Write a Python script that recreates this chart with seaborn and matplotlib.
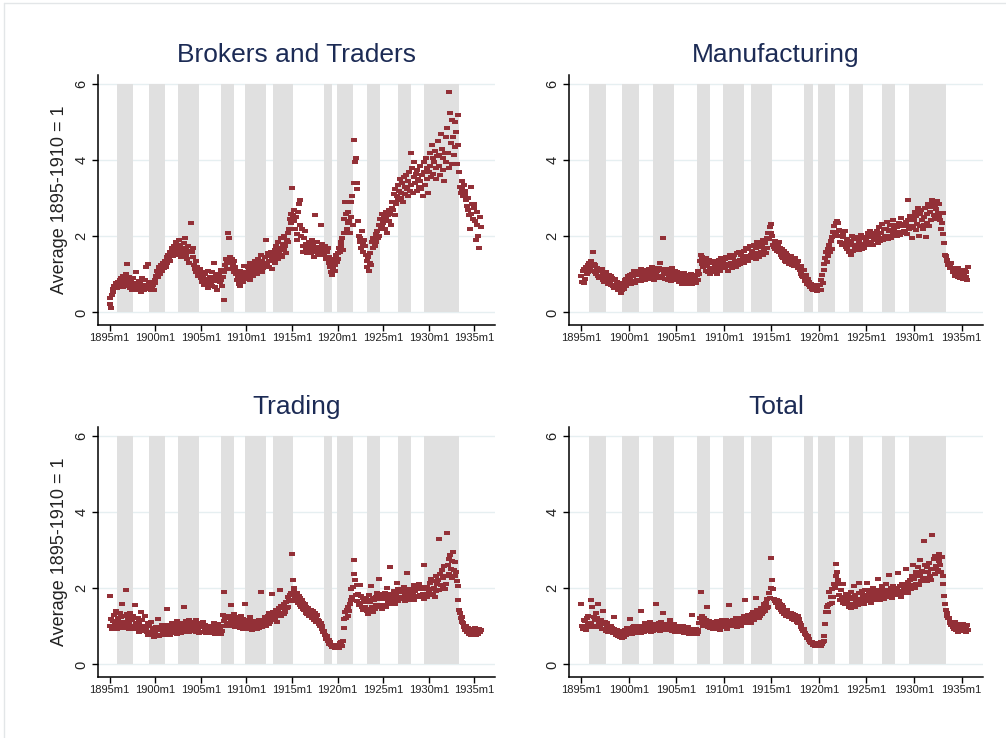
import numpy as np
import pandas as pd
import matplotlib
matplotlib.use("Agg")
import matplotlib.pyplot as plt
from matplotlib.lines import Line2D
import seaborn as sns

# ------------------------------
# Data: monthly index values (average 1895-1910 = 1), 1895m1 onward
# ------------------------------
brokers = [
    0.38, 0.22, 0.12, 0.45, 0.62, 0.55, 0.70, 0.66, 0.78, 0.72, 0.64, 0.80,
    0.75, 0.85, 0.70, 0.90, 0.82, 0.68, 0.95, 0.78, 0.88, 0.72, 1.02, 1.28,
    0.80, 0.70, 0.92, 0.65, 0.85, 0.60, 0.75, 0.90, 0.62, 0.78, 1.05, 0.70,
    0.68, 0.58, 0.82, 0.62, 0.75, 0.55, 0.90, 0.66, 0.72, 0.60, 0.85, 0.64,
    1.20, 0.70, 1.28, 0.62, 0.75, 0.68, 0.58, 0.80, 0.65, 0.72, 0.60, 0.78,
    0.85, 0.95, 1.10, 0.92, 1.05, 1.20, 1.00, 1.15, 1.25, 1.08, 1.30, 1.18,
    1.25, 1.35, 1.20, 1.45, 1.30, 1.52, 1.40, 1.60, 1.35, 1.55, 1.70, 1.48,
    1.62, 1.75, 1.50, 1.85, 1.68, 1.55, 1.78, 1.90, 1.60, 1.72, 1.45, 1.65,
    1.70, 1.55, 1.82, 1.95, 1.48, 1.65, 1.40, 1.75, 1.58, 1.30, 1.62, 2.35,
    1.60, 1.45, 1.70, 1.25, 1.15, 1.35, 1.05, 1.20, 0.95, 1.10, 0.98, 1.15,
    0.90, 1.05, 0.80, 0.95, 0.72, 0.88, 1.00, 0.75, 0.85, 0.65, 1.10, 0.82,
    0.92, 0.78, 1.05, 0.70, 0.88, 1.30, 0.82, 0.68, 0.95, 0.60, 0.85, 1.00,
    0.95, 0.80, 1.12, 0.85, 0.70, 0.92, 0.33, 1.05, 1.25, 1.40, 1.15, 1.35,
    2.10, 1.95, 1.45, 1.30, 1.15, 1.40, 1.25, 1.05, 1.35, 1.20, 1.00, 1.10,
    0.85, 0.95, 0.75, 1.10, 0.70, 0.90, 1.05, 0.80, 0.98, 1.22, 0.88, 1.00,
    1.05, 0.92, 1.20, 1.10, 0.85, 1.30, 1.00, 1.15, 0.95, 1.25, 1.08, 1.35,
    1.15, 1.30, 1.00, 1.40, 1.20, 1.10, 1.25, 1.50, 1.05, 1.35, 1.18, 1.28,
    1.30, 1.45, 1.90, 1.25, 1.55, 1.35, 1.20, 1.48, 1.60, 1.38, 1.15, 1.52,
    1.45, 1.65, 1.30, 1.75, 1.55, 1.40, 1.85, 1.60, 1.50, 1.95, 1.70, 1.45,
    1.80, 1.65, 2.00, 1.75, 1.55, 1.90, 2.10, 1.85, 2.20, 2.45, 2.60, 2.35,
    3.28, 2.55, 2.70, 2.40, 2.20, 2.50, 2.05, 1.90, 2.65, 2.85, 2.95, 2.30,
    2.00, 2.20, 1.75, 1.60, 1.95, 2.15, 1.65, 1.80, 1.55, 1.70, 1.85, 1.60,
    1.75, 1.55, 1.90, 1.65, 1.80, 1.45, 2.55, 1.70, 1.60, 1.85, 1.50, 1.68,
    1.72, 1.60, 2.30, 1.55, 1.80, 1.65, 1.50, 1.75, 1.62, 1.40, 1.58, 1.70,
    1.30, 1.45, 1.20, 1.05, 0.98, 1.35, 1.15, 1.40, 1.25, 1.10, 1.50, 1.32,
    1.55, 1.40, 1.70, 1.60, 1.85, 1.75, 1.95, 1.65, 2.10, 2.45, 2.90, 2.60,
    2.20, 2.65, 2.35, 2.40, 2.10, 2.90, 2.50, 3.05, 2.30, 3.40, 4.52, 3.95,
    4.05, 3.25, 3.40, 2.40, 2.00, 1.85, 1.95, 1.70, 2.15, 1.80, 1.60, 1.90,
    1.75, 1.50, 1.35, 1.20, 1.45, 1.10, 1.30, 1.55, 1.25, 1.85, 1.70, 1.95,
    1.90, 1.75, 2.05, 1.85, 2.15, 1.95, 2.30, 2.00, 2.45, 2.20, 2.60, 2.25,
    2.35, 2.50, 2.20, 2.65, 2.45, 2.10, 2.55, 2.70, 2.40, 2.60, 2.30, 2.75,
    2.90, 2.70, 3.10, 2.55, 3.25, 2.85, 3.05, 3.35, 2.95, 3.20, 3.50, 3.00,
    3.15, 3.40, 2.90, 3.55, 3.30, 3.10, 3.60, 3.25, 3.05, 3.45, 3.70, 3.20,
    4.20, 3.35, 3.80, 3.15, 3.55, 3.95, 3.40, 3.65, 3.20, 3.75, 3.50, 3.30,
    3.45, 3.85, 3.25, 3.60, 3.05, 3.70, 3.95, 3.35, 4.05, 3.50, 3.80, 3.15,
    3.70, 4.20, 3.85, 3.55, 4.40, 4.05, 3.65, 3.95, 4.25, 3.50, 3.80, 4.10,
    4.50, 3.85, 4.15, 3.60, 4.70, 4.30, 3.75, 4.05, 3.45, 4.20, 3.95, 4.60,
    4.85, 4.20, 3.80, 5.80, 5.25, 4.45, 3.90, 5.05, 4.60, 4.15, 5.00, 4.35,
    4.75, 3.90, 5.20, 4.40, 3.70, 3.30, 3.15, 3.45, 3.25, 3.05, 3.35, 3.20,
    3.10, 2.95, 2.80, 3.00, 2.70, 2.55, 2.20, 3.30, 2.60, 2.85, 2.45, 2.75,
    2.85, 2.40, 1.90, 2.65, 2.30, 2.00, 1.70, 2.50, 2.25,
]

manufacturing = [
    0.95, 0.80, 1.10, 0.78, 1.15, 0.88, 1.20, 1.00, 1.25, 1.05, 1.30, 1.12,
    1.22, 1.35, 1.10, 1.60, 1.28, 1.05, 1.25, 1.00, 1.18, 0.95, 1.12, 0.90,
    1.08, 0.92, 1.15, 0.85, 1.02, 0.80, 0.98, 1.05, 0.84, 0.95, 0.76, 0.98,
    0.82, 0.95, 0.72, 0.90, 0.70, 0.86, 0.64, 0.88, 0.68, 0.80, 0.60, 0.78,
    0.58, 0.72, 0.52, 0.70, 0.58, 0.78, 0.62, 0.84, 0.70, 0.88, 0.75, 0.95,
    0.80, 0.98, 0.85, 0.74, 1.02, 0.82, 0.95, 1.08, 0.78, 0.98, 0.85, 1.04,
    0.86, 1.02, 1.08, 0.82, 1.14, 0.92, 1.04, 0.88, 1.12, 0.84, 1.06, 0.92,
    1.04, 0.88, 1.14, 1.02, 0.90, 1.20, 0.96, 1.10, 0.86, 1.16, 0.98, 0.90,
    1.08, 0.94, 1.18, 1.30, 0.96, 1.12, 0.90, 1.95, 1.02, 1.15, 0.88, 1.10,
    1.02, 0.86, 1.14, 0.92, 1.08, 0.82, 1.16, 0.95, 1.04, 0.84, 1.08, 0.90,
    0.96, 1.06, 0.84, 1.00, 0.80, 1.04, 0.90, 0.76, 0.98, 0.85, 1.04, 0.88,
    0.82, 0.98, 0.88, 0.74, 0.95, 0.82, 1.02, 0.86, 0.76, 0.98, 0.88, 0.80,
    0.94, 0.78, 0.98, 0.86, 1.08, 1.00, 1.35, 1.52, 1.28, 1.46, 1.20, 1.40,
    1.32, 1.10, 1.44, 1.22, 1.06, 1.38, 1.16, 1.00, 1.30, 1.12, 1.36, 1.18,
    1.06, 1.28, 1.14, 1.34, 1.00, 1.26, 1.38, 1.10, 1.30, 1.44, 1.16, 1.32,
    1.22, 1.40, 1.16, 1.46, 1.28, 1.10, 1.42, 1.22, 1.50, 1.30, 1.18, 1.44,
    1.26, 1.50, 1.32, 1.20, 1.56, 1.36, 1.24, 1.60, 1.38, 1.28, 1.52, 1.34,
    1.46, 1.30, 1.62, 1.40, 1.70, 1.48, 1.34, 1.66, 1.46, 1.74, 1.52, 1.42,
    1.62, 1.46, 1.76, 1.55, 1.40, 1.70, 1.84, 1.52, 1.72, 1.46, 1.80, 1.60,
    1.72, 1.52, 1.90, 1.62, 1.82, 1.56, 1.95, 1.70, 2.08, 1.92, 2.25, 2.10,
    2.32, 2.02, 1.78, 1.72, 1.88, 1.66, 1.82, 1.62, 1.76, 1.84, 1.58, 1.70,
    1.52, 1.68, 1.46, 1.42, 1.62, 1.36, 1.56, 1.32, 1.52, 1.40, 1.28, 1.48,
    1.36, 1.48, 1.26, 1.44, 1.32, 1.22, 1.42, 1.28, 1.30, 1.16, 1.36, 1.22,
    1.12, 1.02, 1.22, 0.96, 0.92, 1.12, 0.86, 0.82, 0.98, 0.76, 0.88, 0.72,
    0.80, 0.66, 0.76, 0.62, 0.72, 0.60, 0.70, 0.58, 0.72, 0.56, 0.66, 0.60,
    0.58, 0.72, 0.60, 0.85, 0.98, 0.78, 1.12, 1.28, 1.42, 1.58, 1.32, 1.68,
    1.48, 1.78, 1.58, 1.88, 1.66, 1.98, 2.12, 2.28, 2.02, 2.34, 2.12, 2.40,
    2.36, 2.16, 2.02, 1.86, 2.14, 1.76, 1.98, 2.04, 1.82, 2.14, 1.72, 1.92,
    1.66, 1.88, 1.58, 1.78, 1.52, 1.84, 2.02, 1.62, 1.92, 1.68, 1.98, 1.78,
    1.72, 1.94, 1.64, 1.88, 1.76, 2.04, 1.68, 1.96, 1.80, 1.70, 1.98, 1.84,
    1.92, 1.76, 2.08, 1.82, 1.98, 2.14, 1.84, 2.02, 1.78, 2.08, 1.90, 2.04,
    1.92, 2.14, 1.82, 2.04, 2.24, 1.88, 2.08, 1.96, 2.32, 1.90, 2.18, 2.02,
    1.98, 2.20, 2.38, 1.92, 2.14, 2.02, 2.30, 1.96, 2.16, 2.42, 2.04, 2.22,
    2.06, 2.30, 2.02, 2.24, 2.12, 2.34, 2.04, 2.26, 2.48, 2.10, 2.32, 2.14,
    2.28, 2.10, 2.38, 2.06, 2.44, 2.95, 2.18, 2.54, 2.26, 1.95, 2.48, 2.22,
    2.42, 2.64, 2.16, 2.54, 2.32, 2.74, 2.02, 2.58, 2.26, 2.68, 2.44, 2.20,
    2.52, 2.30, 2.74, 1.98, 2.58, 2.36, 2.84, 2.26, 2.64, 2.42, 2.78, 2.95,
    2.88, 2.56, 2.78, 2.46, 2.72, 2.92, 2.62, 2.84, 2.52, 2.42, 2.18, 2.36,
    2.62, 2.06, 1.82, 1.52, 1.48, 1.36, 1.38, 1.26, 1.30, 1.16, 1.20, 1.30,
    1.16, 1.06, 1.10, 1.14, 0.96, 1.12, 0.98, 1.18, 0.92, 1.08, 0.90, 1.12,
    0.98, 1.10, 0.88, 1.04, 1.12, 0.92, 1.06, 0.86, 1.20,
]

trading = [
    1.80, 1.02, 1.20, 0.92, 1.14, 0.98, 1.30, 1.04, 1.40, 1.12, 0.94, 1.22,
    1.08, 1.34, 1.00, 1.24, 1.60, 1.12, 0.96, 1.28, 1.06, 1.95, 1.02, 1.32,
    1.22, 0.92, 1.12, 1.34, 0.96, 1.18, 1.00, 1.28, 0.94, 1.55, 1.08, 0.96,
    1.04, 1.22, 0.86, 1.12, 0.96, 1.38, 0.92, 1.18, 1.02, 0.88, 1.28, 0.98,
    0.94, 0.84, 1.08, 0.78, 1.02, 0.86, 0.80, 1.12, 0.76, 0.96, 0.72, 0.92,
    0.82, 0.98, 0.76, 1.20, 0.90, 0.74, 0.90, 0.98, 0.78, 1.04, 0.82, 0.94,
    0.86, 0.98, 0.78, 1.45, 0.92, 1.04, 0.82, 0.98, 0.76, 0.94, 1.08, 0.86,
    0.96, 0.82, 1.04, 0.88, 1.14, 0.80, 1.00, 0.86, 1.08, 0.90, 0.82, 1.02,
    1.08, 0.92, 1.50, 1.00, 0.86, 1.14, 0.92, 1.08, 0.84, 1.18, 1.00, 0.90,
    1.12, 0.98, 0.88, 1.06, 0.92, 1.18, 0.86, 1.02, 0.94, 1.10, 0.82, 0.98,
    1.06, 0.86, 0.98, 1.12, 0.84, 1.04, 0.94, 0.82, 1.02, 0.90, 0.84, 0.96,
    0.88, 1.02, 0.82, 0.96, 0.86, 1.08, 0.92, 0.80, 1.00, 0.88, 1.06, 0.84,
    0.86, 0.96, 0.80, 1.02, 0.88, 1.30, 1.14, 1.90, 1.22, 1.02, 1.28, 1.08,
    1.22, 1.06, 1.28, 1.12, 1.55, 1.02, 1.22, 1.10, 1.32, 0.98, 1.20, 1.06,
    1.16, 1.02, 1.24, 1.08, 0.96, 1.28, 1.04, 1.20, 0.94, 1.14, 1.60, 1.02,
    1.12, 0.96, 1.18, 0.92, 1.10, 1.24, 1.00, 0.90, 1.14, 0.98, 1.08, 0.92,
    1.00, 1.14, 0.92, 1.08, 1.18, 0.96, 1.10, 1.90, 0.98, 1.16, 1.04, 1.18,
    1.08, 1.24, 1.02, 1.18, 1.28, 1.06, 1.34, 1.12, 1.22, 1.85, 1.24, 1.38,
    1.18, 1.34, 1.22, 1.44, 1.12, 1.38, 1.26, 1.48, 1.95, 1.28, 1.54, 1.36,
    1.48, 1.32, 1.58, 1.38, 1.64, 1.48, 1.78, 1.52, 1.68, 1.82, 1.66, 1.88,
    2.90, 2.22, 1.98, 2.02, 1.78, 1.72, 1.88, 1.66, 1.62, 1.80, 1.56, 1.74,
    1.52, 1.68, 1.46, 1.62, 1.42, 1.58, 1.36, 1.52, 1.32, 1.48, 1.26, 1.44,
    1.32, 1.42, 1.22, 1.40, 1.26, 1.16, 1.34, 1.22, 1.12, 1.30, 1.18, 1.06,
    1.14, 1.00, 1.10, 0.92, 1.02, 0.86, 0.88, 0.76, 0.78, 0.66, 0.74, 0.62,
    0.64, 0.54, 0.58, 0.50, 0.52, 0.46, 0.48, 0.50, 0.44, 0.46, 0.52, 0.44,
    0.46, 0.52, 0.44, 0.56, 0.50, 0.60, 0.48, 0.62, 0.95, 1.20, 1.38, 1.22,
    1.42, 1.28, 1.52, 1.40, 1.58, 1.68, 1.98, 1.76, 2.04, 2.75, 2.38, 2.22,
    1.82, 2.08, 1.66, 1.84, 1.56, 2.08, 1.62, 1.80, 1.52, 1.74, 1.42, 1.64,
    1.52, 1.74, 1.40, 1.68, 1.32, 1.82, 1.46, 1.64, 2.05, 1.50, 1.74, 1.38,
    1.68, 1.46, 1.78, 1.56, 1.88, 1.52, 2.25, 1.72, 1.56, 1.84, 1.46, 1.78,
    1.72, 1.56, 1.88, 1.52, 1.78, 2.02, 1.62, 1.84, 1.66, 2.55, 1.78, 1.60,
    1.84, 1.66, 1.94, 1.60, 1.78, 1.88, 2.15, 1.66, 1.98, 1.76, 1.72, 1.90,
    1.72, 1.94, 1.76, 2.04, 1.66, 1.88, 1.98, 2.40, 1.76, 1.94, 1.70, 1.88,
    1.94, 1.76, 1.98, 1.82, 2.08, 1.70, 1.92, 2.04, 1.80, 1.98, 1.76, 2.12,
    1.82, 1.98, 1.76, 2.04, 1.86, 1.72, 2.60, 1.82, 1.98, 1.76, 2.04, 1.86,
    1.92, 2.14, 1.82, 2.24, 1.98, 1.86, 2.18, 2.02, 1.78, 2.32, 1.92, 2.12,
    2.22, 3.30, 1.96, 2.38, 2.08, 2.48, 2.02, 2.28, 2.58, 1.98, 2.32, 2.12,
    3.45, 2.62, 2.78, 2.38, 2.88, 2.52, 2.72, 2.28, 2.96, 2.48, 2.68, 2.32,
    2.42, 2.18, 2.06, 1.70, 1.42, 1.36, 1.22, 1.24, 1.12, 1.08, 0.98, 0.96,
    0.90, 1.02, 0.84, 0.96, 0.86, 0.80, 0.92, 0.84, 0.78, 0.94, 0.76, 0.90,
    0.84, 0.96, 0.78, 0.92, 0.86, 0.80, 0.94, 0.84, 0.90,
]

total = [
    1.60, 1.02, 0.92, 1.18, 0.98, 1.14, 0.90, 1.22, 1.04, 1.28, 1.08, 0.98,
    1.70, 1.08, 1.50, 1.02, 1.24, 0.98, 1.16, 1.35, 1.22, 1.60, 1.02, 1.12,
    0.98, 1.18, 0.92, 1.06, 1.40, 0.94, 1.12, 0.88, 1.02, 1.08, 0.86, 0.96,
    0.90, 1.02, 0.84, 0.96, 0.82, 0.92, 1.25, 0.82, 0.78, 0.90, 0.74, 0.86,
    0.78, 0.72, 0.88, 0.70, 0.80, 0.84, 0.72, 0.90, 0.78, 0.86, 0.95, 0.80,
    0.90, 0.82, 1.20, 0.92, 0.80, 0.98, 0.86, 1.02, 0.82, 0.94, 1.00, 0.86,
    0.96, 0.86, 1.02, 0.82, 1.40, 0.90, 1.00, 0.86, 1.08, 0.88, 0.96, 1.02,
    0.90, 1.02, 0.94, 1.12, 0.86, 0.98, 1.06, 0.88, 1.02, 0.94, 1.60, 0.90,
    1.02, 0.92, 1.08, 0.88, 1.02, 1.12, 0.90, 1.35, 0.96, 1.06, 0.92, 1.02,
    0.96, 1.06, 0.90, 1.02, 1.16, 0.92, 1.04, 0.88, 0.98, 1.06, 0.86, 0.96,
    0.90, 1.02, 0.86, 0.96, 0.88, 1.00, 0.84, 0.94, 0.86, 1.02, 0.82, 0.92,
    0.86, 0.94, 0.82, 0.98, 0.80, 0.92, 0.86, 0.84, 1.30, 0.90, 0.80, 0.88,
    0.84, 0.92, 0.80, 0.90, 0.84, 1.10, 1.22, 1.90, 1.14, 1.28, 1.02, 1.22,
    1.08, 1.02, 1.18, 1.50, 0.98, 1.14, 1.02, 0.96, 1.12, 1.00, 0.92, 1.10,
    0.98, 1.12, 0.92, 1.08, 1.14, 0.98, 1.10, 0.90, 1.06, 0.98, 1.18, 1.04,
    1.12, 0.98, 1.10, 1.18, 0.94, 1.06, 1.55, 1.12, 1.00, 1.14, 1.04, 1.18,
    1.06, 1.18, 1.02, 1.22, 1.08, 0.98, 1.18, 1.06, 1.22, 1.10, 1.02, 1.16,
    1.22, 1.08, 1.28, 1.70, 1.12, 1.24, 1.08, 1.30, 1.16, 1.28, 1.10, 1.32,
    1.22, 1.38, 1.18, 1.32, 1.75, 1.26, 1.42, 1.30, 1.22, 1.40, 1.28, 1.48,
    1.32, 1.48, 1.38, 1.58, 1.40, 1.62, 1.48, 1.72, 1.52, 1.88, 1.74, 2.02,
    2.80, 2.22, 1.98, 1.72, 1.68, 1.66, 1.62, 1.70, 1.52, 1.66, 1.48, 1.60,
    1.44, 1.56, 1.38, 1.52, 1.32, 1.44, 1.36, 1.28, 1.42, 1.30, 1.24, 1.36,
    1.26, 1.36, 1.20, 1.32, 1.22, 1.16, 1.30, 1.18, 1.12, 1.26, 1.10, 1.20,
    1.08, 1.04, 0.98, 0.94, 0.88, 0.92, 0.82, 0.80, 0.76, 0.70, 0.74, 0.66,
    0.64, 0.60, 0.56, 0.60, 0.53, 0.50, 0.56, 0.48, 0.54, 0.49, 0.52, 0.55,
    0.50, 0.56, 0.48, 0.58, 0.54, 0.60, 0.62, 0.75, 1.05, 1.38, 1.52, 1.38,
    1.55, 1.90, 1.58, 1.78, 1.62, 1.98, 1.78, 2.12, 2.02, 2.32, 2.65, 2.42,
    2.22, 1.82, 2.12, 1.68, 1.96, 1.76, 1.62, 2.10, 1.72, 1.58, 1.86, 1.66,
    1.62, 1.82, 1.52, 1.76, 1.48, 1.90, 1.58, 1.72, 2.05, 1.52, 1.82, 1.62,
    1.72, 1.56, 1.88, 2.15, 1.72, 1.62, 1.92, 1.66, 1.82, 1.58, 1.96, 1.72,
    1.82, 2.15, 1.66, 1.88, 1.72, 1.96, 1.62, 1.82, 2.00, 1.72, 1.92, 1.68,
    1.88, 1.72, 2.25, 1.78, 1.96, 1.68, 1.92, 1.82, 2.06, 1.78, 1.72, 1.96,
    1.84, 2.12, 1.78, 1.96, 2.35, 1.88, 1.82, 2.02, 1.74, 1.96, 2.06, 1.84,
    1.96, 1.82, 2.02, 1.88, 2.40, 1.82, 2.06, 1.94, 1.78, 2.12, 1.88, 2.02,
    1.94, 2.12, 2.50, 1.98, 2.16, 1.88, 2.06, 2.22, 1.98, 2.32, 2.08, 2.60,
    2.24, 2.02, 2.42, 2.12, 2.32, 2.56, 2.08, 2.75, 2.34, 2.18, 2.46, 2.28,
    3.25, 2.42, 2.62, 2.28, 2.56, 2.18, 2.42, 2.66, 2.32, 2.52, 2.22, 3.40,
    2.52, 2.78, 2.38, 2.86, 2.58, 2.82, 2.48, 2.72, 2.90, 2.62, 2.44, 2.82,
    2.32, 2.12, 1.80, 1.58, 1.42, 1.36, 1.26, 1.22, 1.22, 1.12, 1.08, 1.04,
    1.10, 0.98, 1.06, 0.92, 1.12, 0.90, 1.02, 0.86, 1.04, 0.94, 0.88, 1.06,
    0.98, 0.88, 1.06, 0.90, 1.02, 0.86, 0.94, 1.04, 0.90,
]

panel_titles = ["Brokers and Traders", "Manufacturing", "Trading", "Total"]

# NBER business-cycle peaks and troughs (shaded)
recessions = [
    ("1895m12", "1897m6"), ("1899m6", "1900m12"), ("1902m9", "1904m8"),
    ("1907m5", "1908m6"), ("1910m1", "1912m1"), ("1913m1", "1914m12"),
    ("1918m8", "1919m3"), ("1920m1", "1921m7"), ("1923m5", "1924m7"),
    ("1926m10", "1927m11"), ("1929m8", "1933m3"),
]

tick_labels = ["1895m1", "1900m1", "1905m1", "1910m1", "1915m1",
               "1920m1", "1925m1", "1930m1", "1935m1"]
y_ticks = [0, 2, 4, 6]


def to_month(s):
    # Stata-style monthly date -> months since 1895m1
    y, m = s.split("m")
    return (int(y) - 1895) * 12 + int(m) - 1


# ------------------------------
# Styling
# ------------------------------
sns.set_style("white")
plt.rcParams["font.family"] = ["Liberation Sans", "DejaVu Sans"]

marker_color = "#933037"
band_color = "#e0e0e0"
grid_color = "#e6eff1"
title_color = "#1c2b55"
# small flat rectangle, like the Stata "tiny square" markers
dash_marker = [(-1.5, -1.0), (1.5, -1.0), (1.5, 1.0), (-1.5, 1.0), (-1.5, -1.0)]

fig = plt.figure(figsize=(10.06, 7.38), dpi=100)
positions = [
    [0.0977, 0.5596, 0.3943, 0.3388],
    [0.5659, 0.5596, 0.4112, 0.3388],
    [0.0977, 0.0827, 0.3943, 0.3388],
    [0.5659, 0.0827, 0.4112, 0.3388],
]
series = [brokers, manufacturing, trading, total]
tick_pos = [to_month(t) for t in tick_labels]

for i, (pos, vals, title) in enumerate(zip(positions, series, panel_titles)):
    ax = fig.add_axes(pos)
    df = pd.DataFrame({"month": np.arange(len(vals)), "value": vals})

    for start, end in recessions:
        ax.fill_between([to_month(start) - 1.5, to_month(end) + 2], 0, 6,
                        color=band_color, lw=0, zorder=1)

    for yv in y_ticks:
        ax.axhline(yv, color=grid_color, lw=1.0, zorder=0.5)

    sns.scatterplot(data=df, x="month", y="value", ax=ax, marker=dash_marker,
                    s=15, color=marker_color, linewidth=0, legend=False,
                    zorder=3)

    ax.set_xlim(-15, 507)
    ax.set_ylim(-0.33, 6.24)
    ax.set_xticks(tick_pos)
    ax.set_xticklabels(tick_labels, fontsize=8, color="#222222")
    ax.set_yticks(y_ticks)
    ax.set_yticklabels([str(v) for v in y_ticks], fontsize=10.5,
                       rotation=90, va="center", color="#222222")
    ax.tick_params(axis="both", direction="out", length=4, width=1.0,
                   color="black", left=True, bottom=True)
    ax.tick_params(axis="x", pad=2)
    ax.tick_params(axis="y", pad=3)

    for side in ["top", "right"]:
        ax.spines[side].set_visible(False)
    for side in ["left", "bottom"]:
        ax.spines[side].set_color("black")
        ax.spines[side].set_linewidth(1.1)

    ax.set_title(title, fontsize=19, color=title_color, pad=9)
    ax.set_xlabel("")
    if i % 2 == 0:
        ax.set_ylabel("Average 1895-1910 = 1", fontsize=13,
                      color="#222222", labelpad=5)
    else:
        ax.set_ylabel("")

# faint frame edge from the original export
fig.add_artist(Line2D([0.004, 0.004], [0.0, 0.996], color="#e3e6e8", lw=1))
fig.add_artist(Line2D([0.004, 1.0], [0.996, 0.996], color="#e3e6e8", lw=1))

fig.savefig("out.png", dpi=100, facecolor="white")
